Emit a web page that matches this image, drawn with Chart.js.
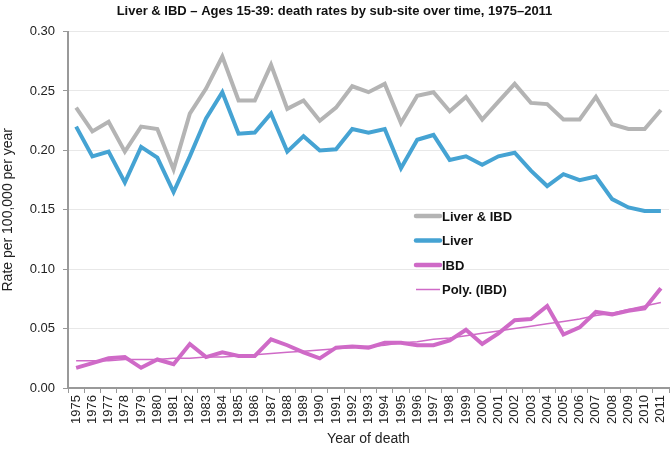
<!DOCTYPE html>
<html><head><meta charset="utf-8">
<script src="https://cdn.jsdelivr.net/npm/chart.js@4"></script>
<style>html,body{margin:0;padding:0;background:#fff}#wrap{width:670px;height:450px}</style>
</head><body><div id="wrap"><canvas id="c" width="670" height="450"></canvas></div>
<script>
const years = ["1975","1976","1977","1978","1979","1980","1981","1982","1983","1984","1985","1986","1987","1988","1989","1990","1991","1992","1993","1994","1995","1996","1997","1998","1999","2000","2001","2002","2003","2004","2005","2006","2007","2008","2009","2010","2011"];
const liverIBD = [0.236,0.216,0.224,0.199,0.220,0.218,0.184,0.231,0.252,0.279,0.242,0.242,0.272,0.235,0.242,0.225,0.236,0.254,0.249,0.256,0.223,0.246,0.249,0.233,0.245,0.226,0.241,0.256,0.240,0.239,0.226,0.226,0.245,0.222,0.218,0.218,0.234];
const liver = [0.220,0.195,0.199,0.173,0.203,0.194,0.165,0.195,0.227,0.249,0.214,0.215,0.231,0.199,0.212,0.200,0.201,0.218,0.215,0.218,0.185,0.209,0.213,0.192,0.195,0.188,0.195,0.198,0.183,0.170,0.180,0.175,0.178,0.159,0.152,0.149,0.149];
const ibd = [0.017,0.021,0.025,0.026,0.017,0.024,0.020,0.037,0.026,0.030,0.027,0.027,0.041,0.036,0.030,0.025,0.034,0.035,0.034,0.038,0.038,0.036,0.036,0.040,0.049,0.037,0.046,0.057,0.058,0.069,0.045,0.051,0.064,0.062,0.065,0.067,0.084];
const polyIBD = [0.023,0.023,0.023,0.024,0.024,0.024,0.025,0.025,0.026,0.026,0.027,0.028,0.029,0.030,0.031,0.032,0.033,0.034,0.035,0.036,0.038,0.039,0.041,0.042,0.044,0.046,0.048,0.050,0.052,0.054,0.056,0.058,0.061,0.063,0.066,0.069,0.072];
const yTicks = ["0.00","0.05","0.10","0.15","0.20","0.25","0.30"];

const FONT = "'Liberation Sans', Arial, Helvetica, sans-serif";
const cGrey = '#b4b4b4', cBlue = '#45a3d3', cPink = '#cf6ac7';

const legendPlugin = {
  id: 'inLegend',
  afterDraw(chart) {
    const ctx = chart.ctx;
    const items = [
      {t:'Liver & IBD', c:cGrey, w:4.5},
      {t:'Liver', c:cBlue, w:4.5},
      {t:'IBD', c:cPink, w:4.5},
      {t:'Poly. (IBD)', c:cPink, w:1.5}
    ];
    ctx.save();
    ctx.font = "bold 13px " + FONT;
    ctx.textBaseline = 'middle';
    let y = 216;
    items.forEach(it => {
      ctx.strokeStyle = it.c; ctx.lineWidth = it.w; ctx.lineCap = it.w > 2 ? 'round' : 'butt';
      ctx.beginPath(); ctx.moveTo(416, y); ctx.lineTo(440, y); ctx.stroke();
      ctx.fillStyle = '#111'; ctx.fillText(it.t, 442, y + 1);
      y += 24.5;
    });
    ctx.restore();
  }
};

new Chart(document.getElementById('c'), {
  type: 'line',
  data: {
    labels: years,
    datasets: [
      {label:'Liver & IBD', data: liverIBD, borderColor: cGrey, borderWidth: 4, pointRadius: 0, tension: 0},
      {label:'Liver', data: liver, borderColor: cBlue, borderWidth: 4, pointRadius: 0, tension: 0},
      {label:'Poly. (IBD)', data: polyIBD, borderColor: cPink, borderWidth: 1.5, pointRadius: 0, tension: 0},
      {label:'IBD', data: ibd, borderColor: cPink, borderWidth: 4, pointRadius: 0, tension: 0}
    ]
  },
  options: {
    responsive: false,
    animation: false,
    layout: {padding: {left: 0, right: 1, top: 0, bottom: 0}},
    plugins: {
      legend: {display: false},
      tooltip: {enabled: false},
      title: {display: true, text: 'Liver & IBD – Ages 15-39: death rates by sub-site over time, 1975–2011',
        font: {family: FONT, size: 13, weight: 'bold'}, color: '#111', padding: {top: 4, bottom: 12}}
    },
    scales: {
      x: {
        offset: true,
        afterFit(s) { s.height = 62; s.paddingRight = 0; s.paddingLeft = 0; },
        grid: {display: true, drawOnChartArea: false, drawTicks: true, tickLength: 5, offset: true, color: '#999'},
        border: {display: true, color: '#999', width: 2},
        ticks: {autoSkip: false, maxRotation: 90, minRotation: 90, color: '#222', font: {family: FONT, size: 13}, padding: 2},
        title: {display: true, text: 'Year of death', color: '#222', font: {family: FONT, size: 14}, padding: {top: 2, bottom: 2}}
      },
      y: {
        min: 0, max: 0.30,
        afterBuildTicks(s) { s.ticks = yTicks.map(v => ({value: parseFloat(v)})); },
        afterFit(s) { s.width = 68; s.paddingTop = 0; s.paddingBottom = 0; },
        grid: {color: '#e8e8e8', tickLength: 5, tickColor: '#999'},
        border: {display: true, color: '#999', width: 2, dash: []},
        ticks: {color: '#222', font: {family: FONT, size: 13}, padding: 8, callback: (v) => Number(v).toFixed(2)},
        title: {display: true, text: 'Rate per 100,000 per year', color: '#222', font: {family: FONT, size: 14}, padding: {top: 0, bottom: 0}}
      }
    }
  },
  plugins: [legendPlugin]
});
</script></body></html>
